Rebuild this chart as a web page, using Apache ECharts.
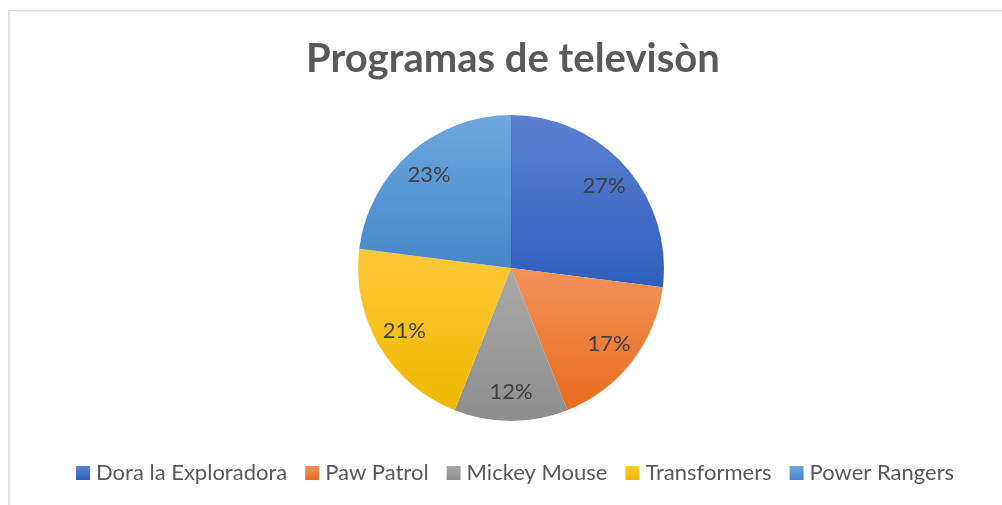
<!DOCTYPE html>
<html>
<head>
<meta charset="utf-8">
<script src="https://cdn.jsdelivr.net/npm/echarts@6/dist/echarts.min.js"></script>
<style>
  html, body { margin: 0; padding: 0; background: #fff; }
  #pie { width: 1002px; height: 505px; }
</style>
</head>
<body>
<div id="pie"></div>
<script>
const title = 'Programas de televisòn';
const categories = ['Dora la Exploradora', 'Paw Patrol', 'Mickey Mouse', 'Transformers', 'Power Rangers'];
const values = [27, 17, 12, 21, 23];
// top / bottom colours of each slice gradient
const topColors = ['#5b80d0', '#f3925a', '#aaaaaa', '#ffc83a', '#6ea7dc'];
const bottomColors = ['#2e5fbd', '#e96c1d', '#8d8d8d', '#efb800', '#4587ca'];

const grad = i => new echarts.graphic.LinearGradient(0, 0, 0, 1, [
  { offset: 0, color: topColors[i] },
  { offset: 1, color: bottomColors[i] }
]);

let data = categories.map((name, i) => ({
  name: name,
  value: values[i],
  itemStyle: { color: grad(i) }
}));

let labelData = categories.map((name, i) => ({ name: name, value: values[i] }));

let myChart = echarts.init(document.getElementById('pie'));
myChart.setOption({
  animation: false,
  title: {
    text: title,
    left: 301,
    top: 34,
    textStyle: {
      fontFamily: 'Lato',
      fontSize: 40,
      fontWeight: 'bold',
      color: '#595959'
    }
  },
  legend: {
    bottom: 16,
    left: 71,
    icon: 'rect',
    itemWidth: 14,
    itemHeight: 14,
    itemGap: 18,
    textStyle: {
      fontFamily: 'Lato',
      fontSize: 22,
      color: '#595959',
      padding: [0, 0, 0, 1]
    },
    data: categories.map((name, i) => ({ name: name, itemStyle: { color: grad(i) } }))
  },
  graphic: [
    {
      type: 'rect',
      silent: true,
      shape: { x: 9, y: 10.5, width: 1100, height: 600 },
      style: { fill: 'none', stroke: '#d9d9d9', lineWidth: 1.5 }
    }
  ],
  series: [
    {
      name: 'Programas',
      type: 'pie',
      radius: [0, 153],
      center: [511, 268],
      startAngle: 90,
      label: { show: false },
      labelLine: { show: false },
      emphasis: { disabled: true },
      data: data
    },
    {
      // transparent ring used only to place the percentage labels
      name: 'labels',
      type: 'pie',
      radius: [89, 153],
      center: [511, 268],
      startAngle: 90,
      silent: true,
      legendHoverLink: false,
      itemStyle: { color: 'rgba(0,0,0,0)' },
      emphasis: { disabled: true },
      label: {
        show: true,
        position: 'inside',
        formatter: '{d}%',
        fontFamily: 'Lato',
        fontSize: 22,
        color: '#404040'
      },
      data: labelData
    }
  ]
});
</script>
</body>
</html>
